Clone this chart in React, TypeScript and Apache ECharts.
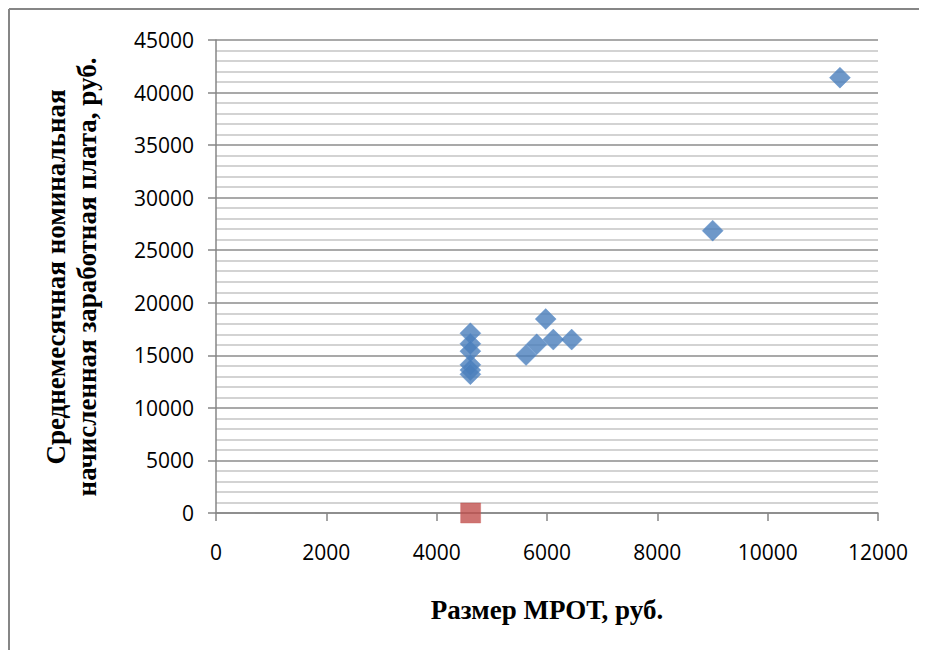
import React, { useEffect, useRef } from "react";
import * as echarts from "echarts";

const mrotValues = [4611, 4611, 4611, 4611, 4611, 4611, 5620, 5813, 5976, 6114, 6447, 9003, 11310];
const wageValues = [17100, 16100, 15400, 14100, 13600, 13200, 15030, 16050, 18450, 16500, 16500, 26860, 41420];
const redPoint = [[4616, 0]];
const xTicks = [0, 2000, 4000, 6000, 8000, 10000, 12000];
const yTicks = [0, 5000, 10000, 15000, 20000, 25000, 30000, 35000, 40000, 45000];
const xTitle = "Размер МРОТ, руб.";
const yTitleLines = ["Среднемесячная номинальная", "начисленная заработная плата, руб."];

export default function App() {
  const ref = useRef<HTMLDivElement>(null);
  useEffect(() => {
    if (!ref.current) return;
    document.documentElement.style.overflow = "hidden";
    document.body.style.overflow = "hidden";
    const chart = echarts.init(ref.current, null, { renderer: "svg" });
    const blueData = mrotValues.map((x, i) => [x, wageValues[i]]);
    chart.setOption({
      animation: false,
      grid: { left: 208, right: 49, top: 32, bottom: 137 },
      xAxis: {
        type: "value",
        min: xTicks[0],
        max: xTicks[xTicks.length - 1],
        interval: 2000,
        axisLine: { show: true, lineStyle: { color: "#868686", width: 1.5 } },
        axisTick: { show: true, inside: false, length: 8, lineStyle: { color: "#868686", width: 1.5 } },
        axisLabel: { color: "#000", fontFamily: "Open Sans", fontSize: 21, margin: 28, formatter: (v: number) => String(v) },
        splitLine: { show: false },
      },
      yAxis: {
        type: "value",
        min: yTicks[0],
        max: yTicks[yTicks.length - 1],
        interval: 5000,
        axisLine: { show: true, lineStyle: { color: "#868686", width: 1.5 } },
        axisTick: { show: true, inside: false, length: 8, lineStyle: { color: "#868686", width: 1.5 } },
        axisLabel: { color: "#000", fontFamily: "Open Sans", fontSize: 21, margin: 22, formatter: (v: number) => String(v) },
        splitLine: { show: true, lineStyle: { color: "#8c8c8c", width: 1.5 } },
        minorTick: { show: false, splitNumber: 5 },
        minorSplitLine: { show: true, lineStyle: { color: "#c4c4c4", width: 1.5 } },
      },
      series: [
        {
          type: "scatter",
          data: blueData,
          symbol: "diamond",
          symbolSize: 21,
          itemStyle: { color: "#4a7ebb", borderColor: "#5b8fcc", borderWidth: 0.5 },
        },
        {
          type: "scatter",
          data: redPoint,
          symbol: "rect",
          symbolSize: 20,
          itemStyle: { color: "#c0504d", borderColor: "#d0605d", borderWidth: 0.5 },
        },
      ],
      graphic: [
        {
          type: "line",
          shape: { x1: 1, y1: 1, x2: 919, y2: 1 },
          style: { stroke: "#868686", lineWidth: 2 },
          silent: true,
        },
        {
          type: "line",
          shape: { x1: 1, y1: 1, x2: 1, y2: 642 },
          style: { stroke: "#868686", lineWidth: 2 },
          silent: true,
        },
        {
          type: "text",
          x: 539,
          y: 602,
          style: {
            text: xTitle,
            font: "bold 27px 'Liberation Serif'",
            fill: "#000",
            textAlign: "center",
            textVerticalAlign: "middle",
          },
        },
        {
          type: "text",
          x: 63,
          y: 269,
          rotation: Math.PI / 2,
          style: {
            text: yTitleLines.join("\n"),
            font: "bold 27px 'Liberation Serif'",
            lineHeight: 31,
            fill: "#000",
            textAlign: "center",
            textVerticalAlign: "middle",
          },
        },
      ],
    });
    return () => chart.dispose();
  }, []);
  return <div ref={ref} style={{ width: 919, height: 642 }} />;
}
